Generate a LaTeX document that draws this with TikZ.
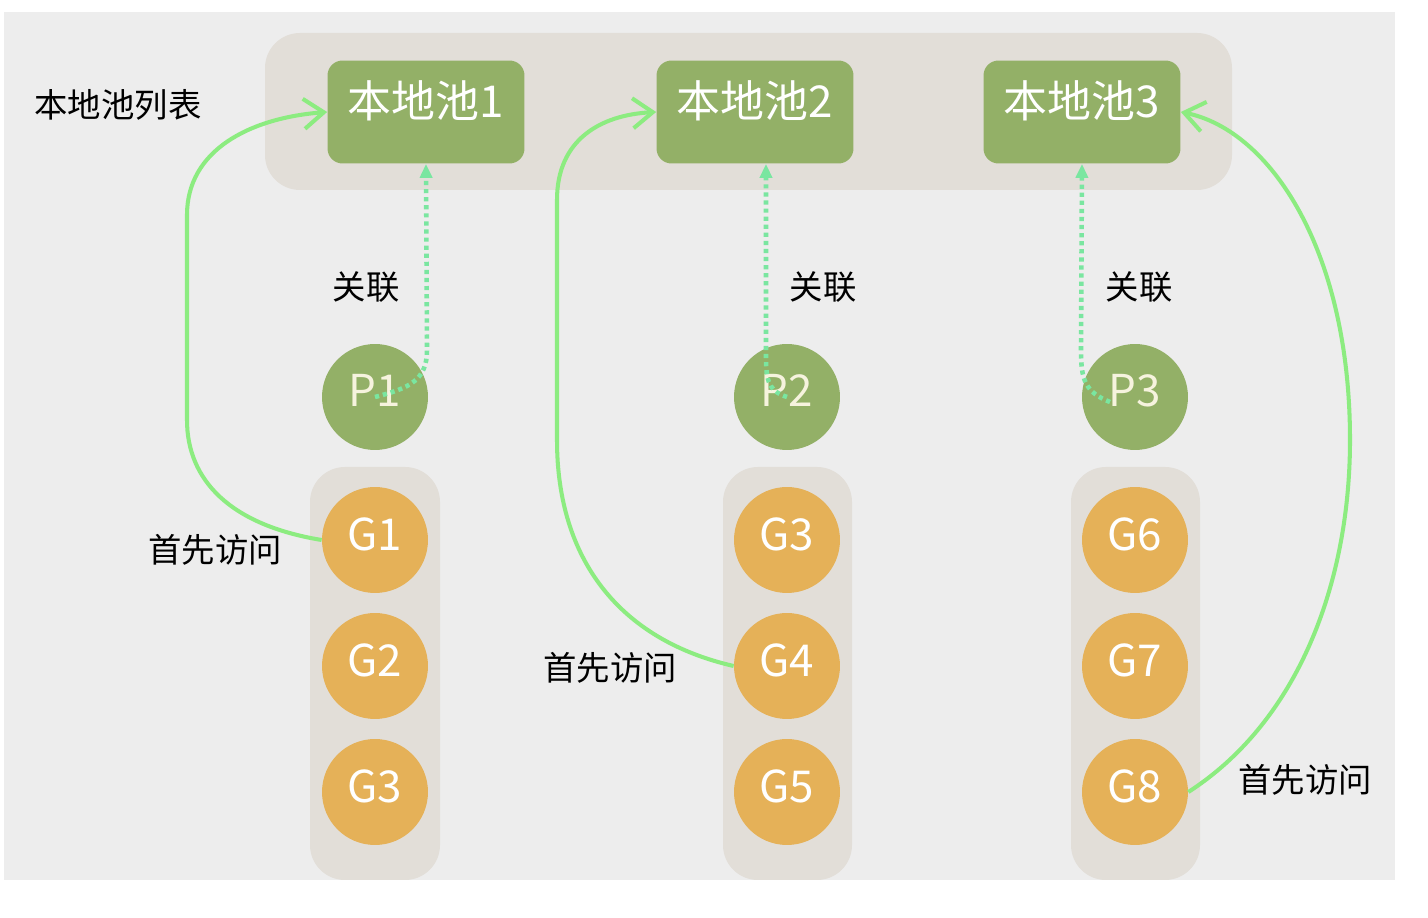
\documentclass[tikz,border=0pt]{standalone}
\usepackage{fontspec}
\setmainfont{Noto Sans CJK SC}
\usetikzlibrary{arrows.meta}

\definecolor{pagebg}{RGB}{237,237,237}
\definecolor{bandbg}{RGB}{226,222,216}
\definecolor{poolgreen}{RGB}{147,176,103}
\definecolor{gorange}{RGB}{229,177,88}
\definecolor{visitgreen}{RGB}{140,236,128}
\definecolor{assocgreen}{RGB}{122,230,160}
\definecolor{plabel}{RGB}{246,243,222}

\tikzset{
	pool/.style={fill=poolgreen, rounded corners=0.3cm, minimum width=3.94cm,
		minimum height=2.06cm, text height=0.7cm, text depth=0.48cm,
		text=white, font=\fontsize{25}{25}\selectfont},
	proc/.style={circle, fill=poolgreen, minimum size=2.12cm, inner sep=0pt,
		text height=0.7cm, text depth=0.32cm,
		text=plabel, font=\fontsize{25}{25}\selectfont},
	gor/.style={circle, fill=gorange, minimum size=2.12cm, inner sep=0pt,
		text height=0.7cm, text depth=0.26cm,
		text=white, font=\fontsize{25}{25}\selectfont},
	lbl/.style={text=black, font=\fontsize{19}{19}\selectfont},
	visit/.style={visitgreen, line width=2.3pt, -{Straight Barb[length=0.4cm,width=0.6cm]}},
	assoc/.style={assocgreen, line width=2.6pt, dash pattern=on 2.4pt off 2.2pt,
		-{Triangle[length=0.28cm,width=0.24cm]}}
}

\begin{document}
\begin{tikzpicture}[x=0.02cm, y=-0.02cm]
	\useasboundingbox (0,0) rectangle (1428,918);
	\fill[pagebg] (4,12) rectangle (1395,880);
	% list band and the three G columns
	\fill[bandbg, rounded corners=0.7cm] (265,33) rectangle (1232,190);
	\fill[bandbg, rounded corners=0.7cm] (310,467) rectangle (440,880);
	\fill[bandbg, rounded corners=0.7cm] (723,467) rectangle (852,880);
	\fill[bandbg, rounded corners=0.7cm] (1071,467) rectangle (1200,880);

	\node[lbl] (title) at (118,105) {本地池列表};
	\node[pool] (pool1) at (426,112) {本地池1};
	\node[pool] (pool2) at (755,112) {本地池2};
	\node[pool] (pool3) at (1082,112) {本地池3};

	\node[proc] (p1) at (375,397) {P1};
	\node[proc] (p2) at (787,397) {P2};
	\node[proc] (p3) at (1135,397) {P3};

	\node[lbl] (rel1) at (366,287) {关联};
	\node[lbl] (rel2) at (823,287) {关联};
	\node[lbl] (rel3) at (1139,287) {关联};

	\node[gor] (g1) at (375,540) {G1};
	\node[gor] (g2) at (375,666) {G2};
	\node[gor] (g3) at (375,792) {G3};
	\node[gor] (g4) at (787,540) {G3};
	\node[gor] (g5) at (787,666) {G4};
	\node[gor] (g6) at (787,792) {G5};
	\node[gor] (g7) at (1135,540) {G6};
	\node[gor] (g8) at (1135,666) {G7};
	\node[gor] (g9) at (1135,792) {G8};

	\node[lbl] (first1) at (215,550) {首先访问};
	\node[lbl] (first2) at (610,668) {首先访问};
	\node[lbl] (first3) at (1305,780) {首先访问};

	% P -> local pool
	\draw[assoc] (p1.center) .. controls (410,388) and (427,380) .. (427,350) -- (pool1.south);
	\draw[assoc] (p2.center) .. controls (772,392) and (766,385) .. (766,360) -- ([xshift=0.22cm]pool2.south);
	\draw[assoc] ([shift={(-25,5)}]p3.center) .. controls (1085,392) and (1081,380) .. (1081,350) -- (pool3.south);

	% first access
	\draw[visit] (g1.west) .. controls (230,525) and (187,480) .. (187,420) -- (187,215)
		.. controls (187,150) and (250,118) .. (pool1.west);
	\draw[visit] (g5.west) .. controls (620,640) and (557,560) .. (557,440) -- (557,200)
		.. controls (557,140) and (600,115) .. (pool2.west);
	\draw[visit] (g9.east) .. controls (1300,720) and (1350,580) .. (1350,440)
		.. controls (1350,250) and (1270,130) .. (pool3.east);
\end{tikzpicture}
\end{document}
